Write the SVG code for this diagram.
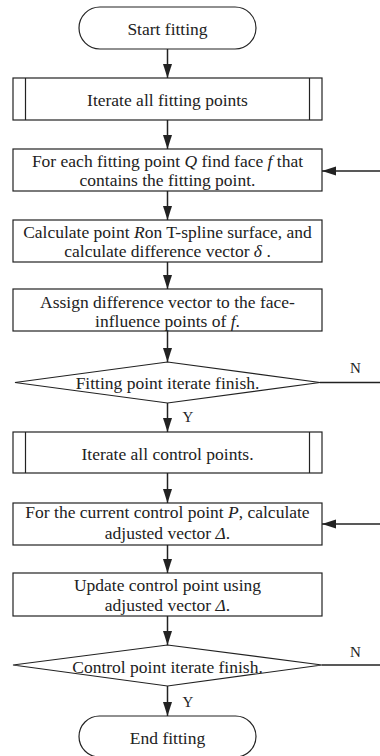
<svg xmlns="http://www.w3.org/2000/svg" width="380" height="756" viewBox="0 0 380 756">
<style>
.s{fill:#fff;stroke:#222;stroke-width:1.2}
.t{font-family:"Liberation Serif","Times New Roman",serif;font-size:17.5px;fill:#222;text-anchor:middle}
.l{font-family:"Liberation Serif","Times New Roman",serif;font-size:15px;fill:#222}
.i{font-style:italic}
.c{fill:none;stroke:#222;stroke-width:1.5}
</style>
<defs>
<marker id="ah" viewBox="0 0 14 10" refX="14" refY="5" markerWidth="14" markerHeight="10" markerUnits="userSpaceOnUse" orient="auto">
<path d="M0,0.5 L14,5 L0,9.5 Z" fill="#222"/>
</marker>
</defs>
<rect width="380" height="756" fill="#fff"/>
<g id="connectors">
<line class="c" x1="167.5" y1="49" x2="167.5" y2="78" marker-end="url(#ah)"/>
<line class="c" x1="167.5" y1="120" x2="167.5" y2="149" marker-end="url(#ah)"/>
<line class="c" x1="380" y1="171" x2="322" y2="171" marker-end="url(#ah)"/>
<line class="c" x1="167.5" y1="191" x2="167.5" y2="220" marker-end="url(#ah)"/>
<line class="c" x1="167.5" y1="262" x2="167.5" y2="289" marker-end="url(#ah)"/>
<line class="c" x1="167.5" y1="331" x2="167.5" y2="362" marker-end="url(#ah)"/>
<line class="c" x1="320" y1="382.5" x2="380" y2="382.5"/>
<text class="l" x="350" y="372.5">N</text>
<line class="c" x1="167.5" y1="403" x2="167.5" y2="432" marker-end="url(#ah)"/>
<text class="l" x="182.5" y="421.5">Y</text>
<line class="c" x1="167.5" y1="473" x2="167.5" y2="503" marker-end="url(#ah)"/>
<line class="c" x1="380" y1="524" x2="322" y2="524" marker-end="url(#ah)"/>
<line class="c" x1="167.5" y1="545" x2="167.5" y2="573" marker-end="url(#ah)"/>
<line class="c" x1="167.5" y1="616" x2="167.5" y2="645" marker-end="url(#ah)"/>
<line class="c" x1="322" y1="665" x2="380" y2="665"/>
<text class="l" x="350" y="656.5">N</text>
<line class="c" x1="167.5" y1="686" x2="167.5" y2="716" marker-end="url(#ah)"/>
<text class="l" x="182.5" y="707">Y</text>
</g>
<g id="start">
<rect class="s" x="79" y="7" width="177" height="42" rx="21" ry="21"/>
<text class="t" x="167.5" y="34.5">Start fitting</text>
</g>
<g id="iterate-fitting">
<rect class="s" x="13" y="78" width="309" height="42"/>
<line class="s" x1="25.5" y1="78" x2="25.5" y2="120"/>
<line class="s" x1="309.5" y1="78" x2="309.5" y2="120"/>
<text class="t" x="167.5" y="105.5">Iterate all fitting points</text>
</g>
<g id="find-face">
<rect class="s" x="13" y="149" width="309" height="42"/>
<text class="t" x="167.5" y="166.5">For each fitting point <tspan class="i">Q</tspan> find face <tspan class="i">f</tspan> that</text>
<text class="t" x="167.5" y="186">contains the fitting point.</text>
</g>
<g id="calc-point">
<rect class="s" x="13" y="220" width="309" height="42"/>
<text class="t" x="167.5" y="237.5">Calculate point <tspan class="i">R</tspan>on T-spline surface, and</text>
<text class="t" x="167.5" y="256.5">calculate difference vector <tspan class="i">δ</tspan> .</text>
</g>
<g id="assign">
<rect class="s" x="13" y="289" width="309" height="42"/>
<text class="t" x="167.5" y="307.5">Assign difference vector to the face-</text>
<text class="t" x="167.5" y="326.5">influence points of <tspan class="i">f</tspan>.</text>
</g>
<g id="fitting-finish">
<polygon class="s" points="167.5,362 320,382.5 167.5,403 15,382.5"/>
<text class="t" x="167.5" y="388.5">Fitting point iterate finish.</text>
</g>
<g id="iterate-control">
<rect class="s" x="13" y="432" width="309" height="41"/>
<line class="s" x1="25.5" y1="432" x2="25.5" y2="473"/>
<line class="s" x1="309.5" y1="432" x2="309.5" y2="473"/>
<text class="t" x="167.5" y="459.5">Iterate all control points.</text>
</g>
<g id="calc-adjust">
<rect class="s" x="13" y="503" width="309" height="42"/>
<text class="t" x="167.5" y="518">For the current control point <tspan class="i">P</tspan>, calculate</text>
<text class="t" x="167.5" y="539">adjusted vector <tspan class="i">Δ</tspan>.</text>
</g>
<g id="update">
<rect class="s" x="13" y="573" width="309" height="43"/>
<text class="t" x="167.5" y="591">Update control point using</text>
<text class="t" x="167.5" y="610.5">adjusted vector <tspan class="i">Δ</tspan>.</text>
</g>
<g id="control-finish">
<polygon class="s" points="167.5,645 322,665 167.5,686 13,665"/>
<text class="t" x="167.5" y="672.5">Control point iterate finish.</text>
</g>
<g id="end">
<rect class="s" x="79" y="716" width="177" height="41" rx="20.5" ry="20.5"/>
<text class="t" x="167.5" y="743.5">End fitting</text>
</g>
</svg>
